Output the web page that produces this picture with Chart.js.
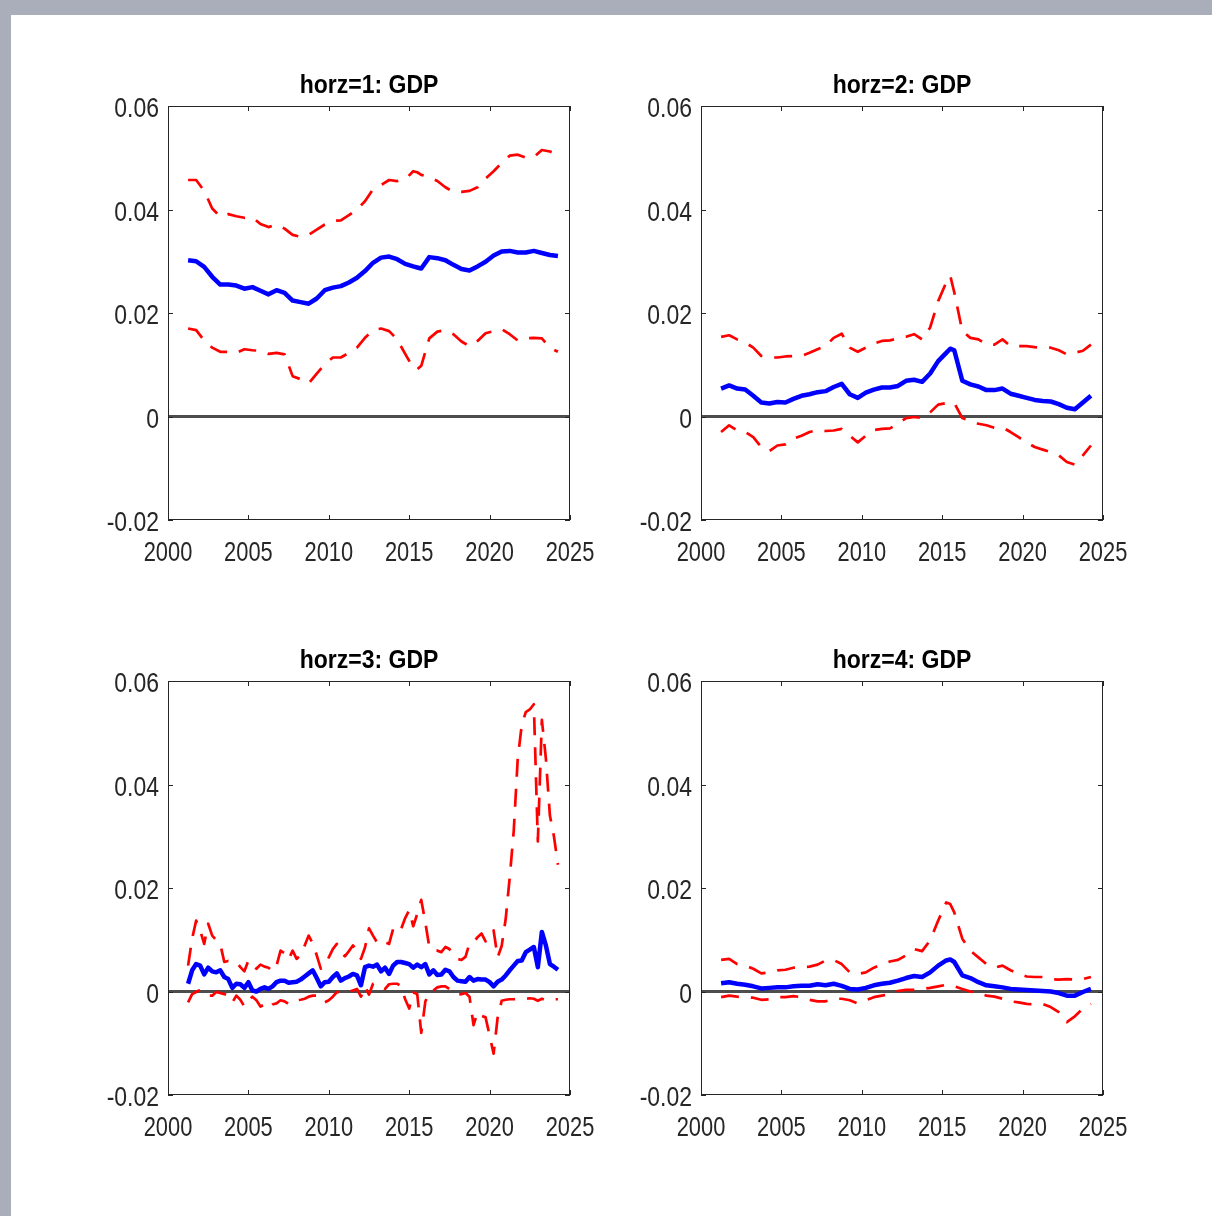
<!DOCTYPE html>
<html>
<head>
<meta charset="utf-8">
<script src="https://cdn.jsdelivr.net/npm/chart.js@4.4.1/dist/chart.umd.min.js"></script>
<style>
  html, body { margin: 0; padding: 0; }
  body { width: 1212px; height: 1216px; background: #a9aeba; position: relative; overflow: hidden; }
  #sheet { position: absolute; left: 11px; top: 15px; width: 1201px; height: 1201px; background: #fff; }
  canvas { position: absolute; }
</style>
</head>
<body>
<div id="sheet"></div>
<canvas id="p1" width="560" height="530" style="left:60px;top:55px"></canvas>
<canvas id="p2" width="560" height="530" style="left:593px;top:55px"></canvas>
<canvas id="p3" width="560" height="530" style="left:60px;top:630px"></canvas>
<canvas id="p4" width="560" height="530" style="left:593px;top:630px"></canvas>
<script>
// axis ranges and tick steps
const xRange = [2000, 2025];
const yRange = [-0.02, 0.06];
const xStep = 5;
const yStep = 0.02;
const zeroLine = [0, 0];

const titles = ['horz=1: GDP', 'horz=2: GDP', 'horz=3: GDP', 'horz=4: GDP'];

// half-year sample dates used for horizons 1, 2 and 4
const halfYears = [2001.25, 2001.75, 2002.25, 2002.75, 2003.25, 2003.75, 2004.25, 2004.75,
  2005.25, 2005.75, 2006.25, 2006.75, 2007.25, 2007.75, 2008.25, 2008.75, 2009.25, 2009.75,
  2010.25, 2010.75, 2011.25, 2011.75, 2012.25, 2012.75, 2013.25, 2013.75, 2014.25, 2014.75,
  2015.25, 2015.5, 2015.75, 2016.25, 2016.75, 2017.25, 2017.75, 2018.25, 2018.75, 2019.25,
  2019.75, 2020.25, 2020.75, 2021.25, 2021.75, 2022.25, 2022.75, 2023.25, 2023.75, 2024.25];

// quarterly dates used for horizon 3 (it is much more jagged)
const quarters = [2001.25, 2001.5, 2001.75, 2002, 2002.25, 2002.5, 2002.75, 2003, 2003.25, 2003.5,
  2003.75, 2004, 2004.25, 2004.5, 2004.75, 2005, 2005.25, 2005.5, 2005.75, 2006, 2006.25, 2006.5,
  2006.75, 2007, 2007.25, 2007.5, 2007.75, 2008, 2008.25, 2008.5, 2008.75, 2009, 2009.25, 2009.5,
  2009.75, 2010, 2010.25, 2010.5, 2010.75, 2011, 2011.25, 2011.5, 2011.75, 2012, 2012.25, 2012.5,
  2012.75, 2013, 2013.25, 2013.5, 2013.75, 2014, 2014.25, 2014.5, 2014.75, 2015, 2015.25, 2015.5,
  2015.75, 2016, 2016.25, 2016.5, 2016.75, 2017, 2017.25, 2017.5, 2017.75, 2018, 2018.25, 2018.5,
  2018.75, 2019, 2019.25, 2019.5, 2019.75, 2020, 2020.25, 2020.5, 2020.75, 2021, 2021.25, 2021.5,
  2021.75, 2022, 2022.25, 2022.5, 2022.75, 2023, 2023.25, 2023.5, 2023.75, 2024, 2024.25];

// horz=1
const h1Mid = [0.0302, 0.0300, 0.0289, 0.0270, 0.0255, 0.0255, 0.0253, 0.0247, 0.0250, 0.0243,
  0.0236, 0.0244, 0.0239, 0.0224, 0.0221, 0.0218, 0.0228, 0.0244, 0.0249, 0.0252, 0.0259, 0.0268,
  0.0281, 0.0297, 0.0307, 0.0309, 0.0304, 0.0295, 0.0290, 0.0288, 0.0286, 0.0308, 0.0306, 0.0302,
  0.0293, 0.0285, 0.0282, 0.0290, 0.0299, 0.0311, 0.0319, 0.0320, 0.0317, 0.0317, 0.0320, 0.0316,
  0.0312, 0.0310];
const h1Hi = [0.0457, 0.0457, 0.0436, 0.0402, 0.0386, 0.0391, 0.0387, 0.0384, 0.0385, 0.0372,
  0.0366, 0.0371, 0.0363, 0.0351, 0.0347, 0.0351, 0.0361, 0.0371, 0.0378, 0.0379, 0.0389, 0.0400,
  0.0416, 0.0439, 0.0447, 0.0457, 0.0455, 0.0458, 0.0474, 0.0472, 0.0467, 0.0463, 0.0455, 0.0443,
  0.0434, 0.0434, 0.0436, 0.0443, 0.0460, 0.0474, 0.0490, 0.0504, 0.0506, 0.0500, 0.0501, 0.0515,
  0.0512, 0.0507];
const h1Lo = [0.0170, 0.0167, 0.0147, 0.0133, 0.0125, 0.0125, 0.0123, 0.0130, 0.0128, 0.0127,
  0.0121, 0.0123, 0.0120, 0.0078, 0.0072, 0.0064, 0.0083, 0.0101, 0.0114, 0.0114, 0.0123, 0.0133,
  0.0152, 0.0167, 0.0170, 0.0165, 0.0149, 0.0121, 0.0094, 0.0091, 0.0098, 0.0151, 0.0164, 0.0167,
  0.0159, 0.0145, 0.0136, 0.0146, 0.0161, 0.0165, 0.0169, 0.0159, 0.0147, 0.0151, 0.0152, 0.0151,
  0.0133, 0.0125];

// horz=2
const h2Mid = [0.0054, 0.0060, 0.0054, 0.0052, 0.0040, 0.0027, 0.0025, 0.0028, 0.0027, 0.0034,
  0.0040, 0.0043, 0.0047, 0.0049, 0.0057, 0.0063, 0.0043, 0.0036, 0.0046, 0.0052, 0.0056, 0.0056,
  0.0059, 0.0069, 0.0071, 0.0067, 0.0083, 0.0107, 0.0123, 0.0131, 0.0128, 0.0069, 0.0062, 0.0058,
  0.0051, 0.0051, 0.0054, 0.0044, 0.0040, 0.0036, 0.0032, 0.0030, 0.0029, 0.0024, 0.0017, 0.0014,
  0.0027, 0.0040];
const h2Hi = [0.0154, 0.0157, 0.0149, 0.0143, 0.0133, 0.0117, 0.0114, 0.0114, 0.0116, 0.0117,
  0.0117, 0.0123, 0.0130, 0.0136, 0.0152, 0.0160, 0.0133, 0.0125, 0.0133, 0.0141, 0.0146, 0.0147,
  0.0151, 0.0154, 0.0159, 0.0149, 0.0172, 0.0223, 0.0259, 0.0272, 0.0240, 0.0165, 0.0152, 0.0149,
  0.0139, 0.0139, 0.0149, 0.0136, 0.0136, 0.0136, 0.0134, 0.0133, 0.0133, 0.0128, 0.0120, 0.0123,
  0.0127, 0.0139];
const h2Lo = [-0.0030, -0.0017, -0.0027, -0.0030, -0.0040, -0.0059, -0.0067, -0.0056, -0.0054,
  -0.0043, -0.0037, -0.0030, -0.0026, -0.0028, -0.0027, -0.0024, -0.0037, -0.0050, -0.0037,
  -0.0026, -0.0024, -0.0023, -0.0014, -0.0003, -0.0001, -0.0003, 0.0008, 0.0023, 0.0026, 0.0026,
  0.0026, -0.0003, -0.0008, -0.0014, -0.0017, -0.0022, -0.0021, -0.0030, -0.0040, -0.0050,
  -0.0059, -0.0064, -0.0069, -0.0075, -0.0088, -0.0093, -0.0075, -0.0056];

// horz=3
const h3Mid = [0.0015, 0.0041, 0.0053, 0.0050, 0.0033, 0.0046, 0.0039, 0.0037, 0.0041, 0.0028,
  0.0024, 0.0007, 0.0015, 0.0014, 0.0007, 0.0018, 0.0002, 0.0000, 0.0005, 0.0008, 0.0005, 0.0010,
  0.0018, 0.0021, 0.0021, 0.0017, 0.0018, 0.0019, 0.0023, 0.0029, 0.0035, 0.0041, 0.0026, 0.0010,
  0.0018, 0.0019, 0.0028, 0.0035, 0.0021, 0.0026, 0.0029, 0.0034, 0.0031, 0.0012,
  0.0047, 0.0050, 0.0048, 0.0052, 0.0039, 0.0046, 0.0034, 0.0050, 0.0057, 0.0057, 0.0055, 0.0053,
  0.0046, 0.0052, 0.0047, 0.0053, 0.0033, 0.0041, 0.0032, 0.0033, 0.0042, 0.0039, 0.0028, 0.0021,
  0.0020, 0.0019, 0.0028, 0.0021, 0.0024, 0.0023, 0.0023, 0.0018, 0.0010, 0.0019, 0.0023, 0.0031,
  0.0041, 0.0050, 0.0059, 0.0060, 0.0076, 0.0081, 0.0086, 0.0047, 0.0115, 0.0089, 0.0053, 0.0048,
  0.0042];
const h3Hi = [0.0050, 0.0102, 0.0137, 0.0118, 0.0092, 0.0131, 0.0108, 0.0099, 0.0092, 0.0057,
  0.0059, 0.0057, 0.0057, 0.0047, 0.0039, 0.0060, 0.0050, 0.0044, 0.0052, 0.0048, 0.0046, 0.0039,
  0.0050, 0.0079, 0.0074, 0.0062, 0.0079, 0.0063, 0.0070, 0.0089, 0.0108, 0.0093, 0.0070, 0.0044,
  0.0050, 0.0066, 0.0082, 0.0092, 0.0076, 0.0068, 0.0078, 0.0089, 0.0079, 0.0063,
  0.0085, 0.0122, 0.0108, 0.0095, 0.0100, 0.0095, 0.0092, 0.0121, 0.0128, 0.0121, 0.0142, 0.0157,
  0.0126, 0.0150, 0.0177, 0.0134, 0.0086, 0.0079, 0.0079, 0.0076, 0.0086, 0.0082, 0.0070, 0.0063,
  0.0061, 0.0067, 0.0093, 0.0095, 0.0105, 0.0112, 0.0097, 0.0106, 0.0118, 0.0066, 0.0088, 0.0140,
  0.0220, 0.0310, 0.0450, 0.0515, 0.0540, 0.0545, 0.0555, 0.0290, 0.0525, 0.0450, 0.0340, 0.0300,
  0.0245];
const h3Lo = [-0.0021, -0.0005, -0.0001, 0.0003, -0.0005, -0.0008, -0.0008, -0.0001, -0.0003,
  -0.0005, -0.0008, -0.0021, -0.0008, -0.0016, -0.0029, -0.0019, -0.0010, -0.0017, -0.0029,
  -0.0025, -0.0032, -0.0025, -0.0023, -0.0017, -0.0019, -0.0024, -0.0023, -0.0017, -0.0016,
  -0.0014, -0.0010, -0.0008, -0.0008, -0.0019, -0.0021, -0.0017, -0.0010, -0.0001, -0.0003,
  -0.0001, -0.0001, 0.0002, 0.0005, -0.0010,
  0.0010, -0.0006, 0.0015, 0.0015, 0.0010, 0.0005, 0.0014, 0.0015, 0.0015, 0.0010, -0.0015,
  -0.0033, -0.0002, -0.0005, -0.0080, -0.0020, 0.0000, 0.0002, 0.0008, 0.0010, 0.0010, 0.0005,
  -0.0002, -0.0006, -0.0005, -0.0003, -0.0010, -0.0065, -0.0040, -0.0047, -0.0050, -0.0085,
  -0.0120, -0.0050, -0.0018, -0.0016, -0.0015, -0.0015, -0.0014, -0.0014, -0.0014, -0.0013,
  -0.0014, -0.0018, -0.0014, -0.0017, -0.0016, -0.0015, -0.0015];

// horz=4
const h4Mid = [0.0016, 0.0018, 0.0015, 0.0013, 0.0010, 0.0006, 0.0007, 0.0008, 0.0008, 0.0010,
  0.0011, 0.0011, 0.0014, 0.0012, 0.0015, 0.0011, 0.0005, 0.0004, 0.0007, 0.0012, 0.0015, 0.0017,
  0.0021, 0.0026, 0.0030, 0.0028, 0.0037, 0.0050, 0.0060, 0.0062, 0.0057, 0.0031, 0.0026, 0.0018,
  0.0012, 0.0010, 0.0008, 0.0005, 0.0004, 0.0003, 0.0002, 0.0001, 0.0000, -0.0003, -0.0008,
  -0.0008, -0.0001, 0.0005];
const h4Hi = [0.0061, 0.0063, 0.0053, 0.0050, 0.0044, 0.0035, 0.0037, 0.0041, 0.0042, 0.0046,
  0.0047, 0.0048, 0.0052, 0.0060, 0.0061, 0.0053, 0.0037, 0.0034, 0.0037, 0.0046, 0.0053, 0.0058,
  0.0061, 0.0070, 0.0082, 0.0078, 0.0099, 0.0137, 0.0172, 0.0169, 0.0153, 0.0102, 0.0079, 0.0066,
  0.0053, 0.0046, 0.0050, 0.0041, 0.0034, 0.0029, 0.0028, 0.0028, 0.0024, 0.0023, 0.0024, 0.0023,
  0.0024, 0.0028];
const h4Lo = [-0.0011, -0.0008, -0.0010, -0.0011, -0.0012, -0.0016, -0.0015, -0.0011, -0.0011,
  -0.0009, -0.0011, -0.0016, -0.0019, -0.0019, -0.0014, -0.0014, -0.0017, -0.0023, -0.0017,
  -0.0011, -0.0008, -0.0005, 0.0001, 0.0003, 0.0003, 0.0005, 0.0007, 0.0010, 0.0013, 0.0012,
  0.0010, 0.0005, 0.0000, -0.0003, -0.0008, -0.0010, -0.0014, -0.0019, -0.0021, -0.0024, -0.0025,
  -0.0024, -0.0030, -0.0040, -0.0059, -0.0048, -0.0033, -0.0024];

const fontFamily = "'Liberation Sans', Arial, sans-serif";

function pts(dates, vals) {
  return vals.map((v, i) => ({ x: dates[i], y: v }));
}

// draw text squeezed sideways, the matlab export is narrow and tall
function narrowText(ctx, text, x, y, sx) {
  ctx.save();
  ctx.translate(x, y);
  ctx.scale(sx, 1);
  ctx.fillText(text, 0, 0);
  ctx.restore();
}

// matlab style box round the axes, inward ticks, tick labels and a title over the plot area
const axesBox = {
  id: 'axesBox',
  afterDraw(chart, args, opts) {
    const { ctx, chartArea: a, scales: { x, y } } = chart;
    const len = 5;
    ctx.save();
    ctx.strokeStyle = '#262626';
    ctx.lineWidth = 1;
    ctx.strokeRect(a.left + 0.5, a.top + 0.5, a.right - a.left - 1, a.bottom - a.top - 1);
    ctx.beginPath();
    x.ticks.forEach(t => {
      const px = Math.round(x.getPixelForValue(t.value)) + 0.5;
      ctx.moveTo(px, a.bottom); ctx.lineTo(px, a.bottom - len);
      ctx.moveTo(px, a.top); ctx.lineTo(px, a.top + len);
    });
    y.ticks.forEach(t => {
      const py = Math.round(y.getPixelForValue(t.value)) + 0.5;
      ctx.moveTo(a.left, py); ctx.lineTo(a.left + len, py);
      ctx.moveTo(a.right, py); ctx.lineTo(a.right - len, py);
    });
    ctx.stroke();

    // tick labels
    ctx.fillStyle = '#262626';
    ctx.font = '28px ' + fontFamily;
    ctx.textBaseline = 'alphabetic';
    ctx.textAlign = 'center';
    x.ticks.forEach(t => {
      narrowText(ctx, String(t.value), x.getPixelForValue(t.value), a.bottom + 41, 0.78);
    });
    ctx.textAlign = 'right';
    y.ticks.forEach(t => {
      const label = Math.abs(t.value) < 1e-9 ? '0' : t.value.toFixed(2);
      narrowText(ctx, label, a.left - 9, y.getPixelForValue(t.value) + 11, 0.82);
    });

    // title
    ctx.fillStyle = '#000';
    ctx.font = 'bold 25px ' + fontFamily;
    ctx.textAlign = 'center';
    narrowText(ctx, opts.title, (a.left + a.right) / 2, a.top - 13, 0.92);
    ctx.restore();
  }
};

function makePanel(id, title, dates, mid, lo, hi) {
  new Chart(document.getElementById(id), {
    type: 'line',
    data: {
      datasets: [
        { data: pts(dates, mid), borderColor: '#0000ff', borderWidth: 4.5, order: 0 },
        { data: pts(dates, hi), borderColor: '#ff0000', borderWidth: 2.7, borderDash: [18, 12], order: 1 },
        { data: pts(dates, lo), borderColor: '#ff0000', borderWidth: 2.7, borderDash: [18, 12], order: 1 },
        { data: pts(xRange, zeroLine), borderColor: '#4d4d4d', borderWidth: 3, order: 2 }
      ]
    },
    options: {
      responsive: false,
      animation: false,
      devicePixelRatio: 1,
      elements: {
        point: { radius: 0, hoverRadius: 0 },
        line: { tension: 0, fill: false, borderJoinStyle: 'round' }
      },
      layout: { padding: { left: 0, right: 50, top: 51, bottom: 5 } },
      plugins: {
        legend: { display: false },
        tooltip: { enabled: false },
        title: { display: false },
        axesBox: { title: title }
      },
      scales: {
        x: {
          type: 'linear',
          min: xRange[0],
          max: xRange[1],
          grid: { display: false },
          border: { display: false },
          ticks: { stepSize: xStep, display: false, autoSkip: false },
          afterFit: s => { s.height = 60; }
        },
        y: {
          min: yRange[0],
          max: yRange[1],
          grid: { display: false },
          border: { display: false },
          ticks: { stepSize: yStep, display: false },
          afterFit: s => { s.width = 108; }
        }
      }
    },
    plugins: [axesBox]
  });
}

makePanel('p1', titles[0], halfYears, h1Mid, h1Lo, h1Hi);
makePanel('p2', titles[1], halfYears, h2Mid, h2Lo, h2Hi);
makePanel('p3', titles[2], quarters, h3Mid, h3Lo, h3Hi);
makePanel('p4', titles[3], halfYears, h4Mid, h4Lo, h4Hi);
</script>
</body>
</html>
